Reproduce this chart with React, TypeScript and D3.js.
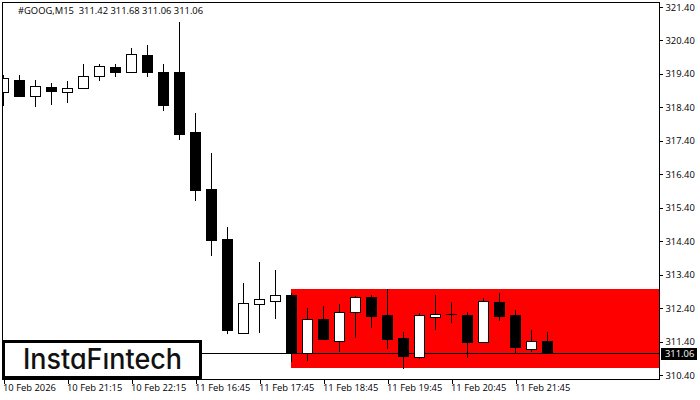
import React, { useRef, useEffect } from 'react';
import * as d3 from 'd3';

// prices, one per 15 minute candle
const opens = [318.86, 319.22, 318.74, 319.01, 318.86, 318.98, 319.34, 319.61, 319.46, 319.97, 319.46, 319.46, 317.66, 315.96, 314.47, 311.66, 312.52, 312.61, 312.79, 311.06, 312.07, 311.42, 312.28, 312.73, 312.19, 311.51, 310.94, 312.13, 312.22, 312.19, 311.39, 312.58, 312.19, 311.18, 311.42];
const highs = [319.37, 319.37, 319.22, 319.13, 319.19, 319.7, 319.7, 319.7, 320.18, 320.27, 319.7, 320.95, 318.23, 317.04, 314.82, 313.15, 313.78, 313.54, 312.85, 312.4, 312.46, 312.52, 312.76, 312.79, 312.97, 311.69, 312.25, 312.79, 312.58, 312.28, 312.7, 312.85, 312.34, 311.75, 311.69];
const lows = [318.44, 318.71, 318.41, 318.47, 318.53, 318.95, 319.19, 319.31, 319.43, 319.31, 318.29, 317.43, 315.6, 313.96, 311.63, 311.63, 311.66, 312.07, 310.79, 310.82, 311.48, 311.09, 311.51, 311.81, 311.18, 310.58, 310.88, 311.75, 311.95, 310.91, 311.39, 312.01, 311.06, 311.09, 311.06];
const closes = [319.28, 318.74, 319.04, 318.89, 318.98, 319.34, 319.64, 319.46, 320.0, 319.46, 318.47, 317.61, 315.93, 314.44, 311.75, 312.55, 312.67, 312.79, 311.06, 312.07, 311.48, 312.28, 312.73, 312.16, 311.48, 310.97, 312.19, 312.22, 312.22, 311.39, 312.61, 312.16, 311.24, 311.42, 311.06];

const priceTicks = [321.4, 320.4, 319.4, 318.4, 317.4, 316.4, 315.4, 314.4, 313.4, 312.4, 311.4, 310.4];
const timeTickIndex = [0, 4, 8, 12, 16, 20, 24, 28, 32];
const timeLabels = ['10 Feb 2026', '10 Feb 21:15', '10 Feb 22:15', '11 Feb 16:45', '11 Feb 17:45', '11 Feb 18:45', '11 Feb 19:45', '11 Feb 20:45', '11 Feb 21:45'];

const lastPrice = 311.06;
const patternTop = 312.97;
const patternBottom = 310.62;
const patternStart = 18;

const title = '#GOOG,M15  311.42 311.68 311.06 311.06';
const FONT = '"Open Sans", "Noto Sans", sans-serif';
const FONT_SIZE = 9.4;

const width = 700;
const height = 400;
const left = 2;
const right = 659;
const top = 2;
const bottom = 379;

const App: React.FC = () => {
  const svgRef = useRef<SVGSVGElement>(null);

  useEffect(() => {
    if (!svgRef.current) return;
    const svg = d3.select(svgRef.current);
    svg.selectAll('*').remove();

    const x = d3.scaleLinear().domain([0, 1]).range([3.5, 19.5]);
    const y = d3.scaleLinear().domain([310.4, 321.4]).range([375, 7]);
    const py = (p: number) => Math.round(y(p));

    svg.append('defs').append('clipPath').attr('id', 'plot')
      .append('rect').attr('x', left).attr('y', top).attr('width', right - left).attr('height', bottom - top);

    const plot = svg.append('g').attr('clip-path', 'url(#plot)').attr('shape-rendering', 'crispEdges');

    // pattern rectangle sits behind the candles
    plot.append('rect')
      .attr('x', x(patternStart) - 0.5)
      .attr('y', py(patternTop))
      .attr('width', right - x(patternStart))
      .attr('height', py(patternBottom) - py(patternTop))
      .attr('fill', '#ff0000');

    // last price line, candles draw over it
    plot.append('line')
      .attr('x1', left)
      .attr('x2', right)
      .attr('y1', py(lastPrice) + 0.5)
      .attr('y2', py(lastPrice) + 0.5)
      .attr('stroke', '#000');

    const candles = plot.selectAll('g.candle')
      .data(d3.range(opens.length))
      .enter()
      .append('g')
      .attr('class', 'candle');

    candles.append('line')
      .attr('x1', (i) => x(i))
      .attr('x2', (i) => x(i))
      .attr('y1', (i) => py(highs[i]))
      .attr('y2', (i) => py(lows[i]))
      .attr('stroke', '#000');

    candles.filter((i) => opens[i] !== closes[i]).append('rect')
      .attr('x', (i) => x(i) - 5)
      .attr('y', (i) => py(Math.max(opens[i], closes[i])) + 0.5)
      .attr('width', 10)
      .attr('height', (i) => Math.abs(py(opens[i]) - py(closes[i])))
      .attr('fill', (i) => (closes[i] > opens[i] ? '#fff' : '#000'))
      .attr('stroke', '#000');

    // doji has no body height, only a flat bar
    candles.filter((i) => opens[i] === closes[i]).append('line')
      .attr('x1', (i) => x(i) - 5.5)
      .attr('x2', (i) => x(i) + 5.5)
      .attr('y1', (i) => py(opens[i]) + 0.5)
      .attr('y2', (i) => py(opens[i]) + 0.5)
      .attr('stroke', '#000');

    // frame
    svg.append('rect')
      .attr('x', left + 0.5)
      .attr('y', top + 0.5)
      .attr('width', right - left)
      .attr('height', bottom - top)
      .attr('fill', 'none')
      .attr('stroke', '#000')
      .attr('shape-rendering', 'crispEdges');

    const yAxis = svg.append('g')
      .attr('transform', `translate(${right + 0.5},0)`)
      .call(
        d3.axisRight(y)
          .tickValues(priceTicks)
          .tickSize(3)
          .tickPadding(3)
          .tickFormat((d) => (d as number).toFixed(2))
      );
    yAxis.select('.domain').remove();
    yAxis.selectAll('text').attr('font-family', FONT).attr('font-size', FONT_SIZE).attr('fill', '#000');
    yAxis.selectAll('line').attr('shape-rendering', 'crispEdges');

    const xAxis = svg.append('g')
      .attr('transform', `translate(0,${bottom + 0.5})`)
      .call(
        d3.axisBottom(x)
          .tickValues(timeTickIndex)
          .tickSize(4)
          .tickPadding(1)
          .tickFormat((_, i) => timeLabels[i])
      );
    xAxis.select('.domain').remove();
    xAxis.selectAll('text')
      .attr('text-anchor', 'start')
      .attr('x', -1)
      .attr('font-family', FONT)
      .attr('font-size', FONT_SIZE)
      .attr('fill', '#000');
    xAxis.selectAll('line').attr('shape-rendering', 'crispEdges');

    svg.append('text')
      .attr('x', 18)
      .attr('y', 14)
      .attr('font-family', FONT)
      .attr('font-size', FONT_SIZE)
      .style('white-space', 'pre')
      .text(title);

    // current price tag
    svg.append('rect')
      .attr('x', right + 2)
      .attr('y', py(lastPrice) - 5)
      .attr('width', 36)
      .attr('height', 12)
      .attr('fill', '#000');
    svg.append('text')
      .attr('x', right + 6)
      .attr('y', py(lastPrice) + 4)
      .attr('font-family', FONT)
      .attr('font-size', FONT_SIZE)
      .attr('fill', '#fff')
      .text(lastPrice.toFixed(2));

    // logo box
    svg.append('rect')
      .attr('x', 3.5)
      .attr('y', 341.5)
      .attr('width', 197)
      .attr('height', 36)
      .attr('fill', '#fff')
      .attr('stroke', '#000')
      .attr('stroke-width', 3)
      .attr('shape-rendering', 'crispEdges');
    svg.append('text')
      .attr('x', 23)
      .attr('y', 369)
      .attr('font-family', 'Inter, Lato, sans-serif')
      .attr('font-size', 28)
      .attr('font-weight', 500)
      .attr('textLength', 159)
      .attr('lengthAdjust', 'spacingAndGlyphs')
      .attr('fill', '#111')
      .style('font-feature-settings', '"cv11"')
      .text('InstaFıntech');
  }, []);

  return (
    <svg
      ref={svgRef}
      width={width}
      height={height}
      style={{ position: 'absolute', top: 0, left: 0, background: '#fff' }}
    />
  );
};

export default App;
